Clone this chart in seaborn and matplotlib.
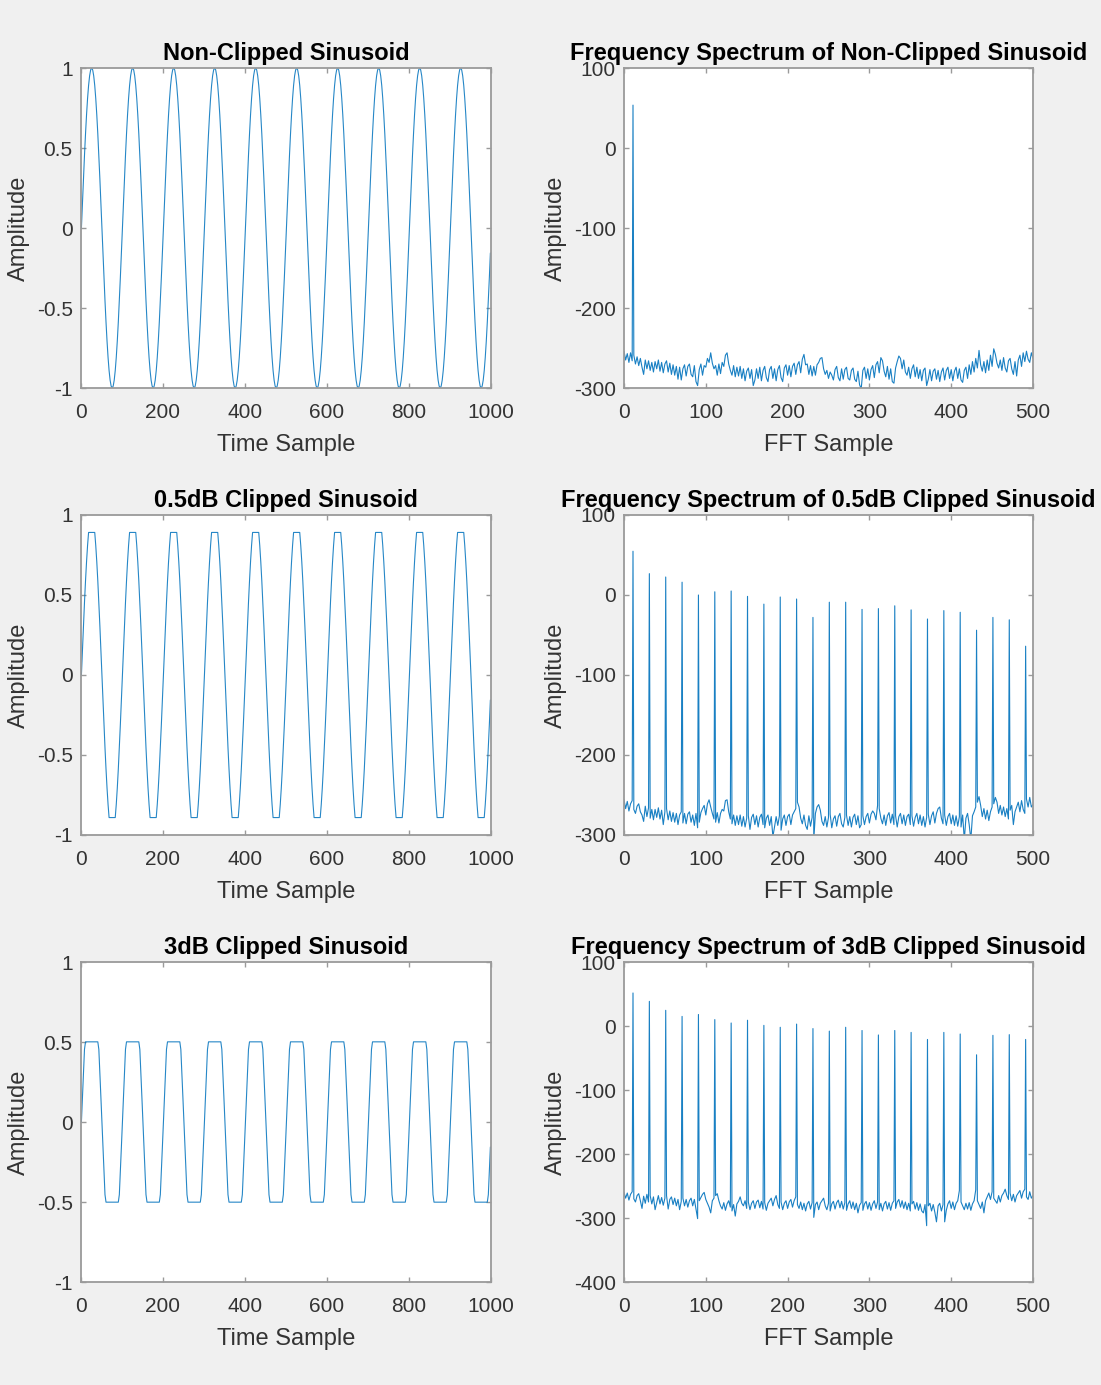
import numpy as np
import pandas as pd
import matplotlib
matplotlib.use("Agg")
import matplotlib.pyplot as plt
import seaborn as sns

# ---------------------------------------------------------------------------
# Time-domain data: one 100-sample period of the unit sinusoid, every 2.5 samples
# ---------------------------------------------------------------------------
sine_period = [
    0.000, 0.156, 0.309, 0.454, 0.588, 0.707, 0.809, 0.891, 0.951, 0.988,
    1.000, 0.988, 0.951, 0.891, 0.809, 0.707, 0.588, 0.454, 0.309, 0.156,
    0.000, -0.156, -0.309, -0.454, -0.588, -0.707, -0.809, -0.891, -0.951, -0.988,
    -1.000, -0.988, -0.951, -0.891, -0.809, -0.707, -0.588, -0.454, -0.309, -0.156,
]
sample_step = 2.5
n_periods = 10
clip_05db = 0.891   # amplitude limit for 0.5 dB clipping
clip_3db = 0.501    # amplitude limit for 3 dB clipping

# ---------------------------------------------------------------------------
# Frequency-domain data (dB): odd-harmonic peaks and the numerical noise floor
# ---------------------------------------------------------------------------
harmonic_bins = [11, 31, 51, 71, 91, 111, 131, 151, 171, 191, 211, 231, 251,
                 271, 291, 311, 331, 351, 371, 391, 411, 431, 451, 471, 491]

peaks_nonclipped = [53.6]
peaks_05db = [54.7, 26.7, 22.5, 16.0, 0.0, 4.0, 5.0, -1.7, -11.4, -2.5, -5.0,
              -28.0, -9.0, -9.0, -18.0, -17.0, -13.5, -18.6, -30.0, -19.5,
              -21.6, -44.0, -28.0, -31.0, -64.0]
peaks_3db = [51.6, 38.5, 24.5, 15.0, 18.0, 10.0, 4.7, 9.0, 1.0, -2.0, 3.0,
             -4.0, -8.0, -2.0, -7.0, -14.0, -7.0, -10.0, -21.0, -10.0, -12.5,
             -45.0, -14.6, -13.5, -21.0]

# noise floor at FFT samples 0, 2, 4, ..., 500
floor_nonclipped = [
    -254, -265, -257, -268, -256, -266, -259, -270, -261, -272,
    -263, -274, -283, -265, -276, -266, -278, -268, -280, -267,
    -276, -265, -279, -268, -281, -270, -266, -280, -269, -283,
    -271, -284, -273, -289, -274, -290, -276, -271, -285, -273,
    -270, -283, -286, -272, -292, -297, -277, -270, -284, -272,
    -274, -263, -268, -256, -269, -276, -272, -284, -270, -282,
    -268, -273, -259, -256, -270, -278, -284, -272, -286, -274,
    -285, -273, -288, -276, -291, -279, -275, -288, -277, -297,
    -290, -276, -288, -274, -291, -278, -273, -287, -292, -277,
    -273, -288, -276, -291, -277, -272, -287, -292, -275, -271,
    -284, -272, -286, -273, -269, -283, -271, -267, -281, -264,
    -258, -271, -270, -283, -272, -285, -273, -284, -271, -268,
    -263, -262, -276, -283, -278, -288, -280, -284, -290, -277,
    -273, -287, -291, -276, -289, -277, -274, -288, -290, -278,
    -275, -289, -292, -279, -296, -301, -278, -274, -288, -276,
    -290, -277, -272, -287, -271, -267, -281, -262, -266, -279,
    -286, -273, -289, -276, -292, -294, -275, -267, -260, -263,
    -276, -265, -280, -284, -274, -288, -276, -271, -286, -274,
    -288, -277, -291, -278, -275, -297, -289, -277, -291, -279,
    -276, -289, -278, -292, -280, -275, -290, -278, -274, -288,
    -277, -291, -279, -274, -288, -276, -290, -293, -278, -274,
    -288, -271, -283, -267, -280, -263, -275, -253, -271, -279,
    -267, -281, -265, -278, -259, -273, -251, -258, -269, -275,
    -265, -278, -262, -275, -280, -266, -263, -276, -283, -267,
    -285, -265, -259, -273, -256, -267, -254, -264, -268, -256,
    -263,
]

floor_05db = [
    -256, -267, -258, -270, -261, -257, -268, -273, -264, -261,
    -271, -275, -283, -264, -277, -266, -279, -268, -281, -268,
    -278, -266, -280, -269, -287, -271, -267, -281, -270, -283,
    -272, -284, -273, -287, -275, -271, -285, -273, -286, -274,
    -271, -284, -275, -288, -273, -291, -284, -272, -267, -263,
    -275, -261, -256, -265, -273, -280, -284, -272, -285, -273,
    -268, -270, -257, -256, -271, -280, -286, -275, -288, -276,
    -287, -275, -289, -277, -290, -279, -276, -293, -278, -274,
    -287, -276, -290, -278, -274, -287, -291, -279, -275, -288,
    -277, -302, -290, -277, -288, -276, -294, -280, -275, -288,
    -277, -274, -287, -275, -271, -267, -259, -265, -279, -286,
    -275, -288, -293, -276, -289, -278, -306, -273, -265, -262,
    -269, -283, -288, -277, -290, -278, -274, -291, -280, -276,
    -289, -277, -273, -286, -290, -278, -275, -288, -277, -290,
    -278, -274, -287, -276, -291, -287, -276, -287, -277, -273,
    -285, -274, -270, -273, -281, -263, -267, -279, -286, -275,
    -288, -276, -272, -285, -274, -287, -276, -290, -277, -273,
    -286, -275, -288, -277, -274, -287, -276, -289, -278, -273,
    -286, -275, -288, -277, -290, -278, -274, -287, -276, -271,
    -285, -273, -267, -265, -279, -286, -275, -288, -277, -273,
    -286, -275, -288, -276, -289, -277, -290, -275, -306, -279,
    -273, -287, -306, -276, -271, -265, -259, -252, -263, -277,
    -267, -280, -269, -282, -271, -265, -261, -253, -259, -273,
    -263, -275, -265, -277, -267, -280, -269, -263, -287, -271,
    -265, -259, -271, -257, -268, -273, -255, -265, -253, -265,
    -262,
]

floor_3db = [
    -260, -269, -261, -272, -263, -259, -270, -275, -265, -262,
    -273, -285, -266, -277, -263, -275, -265, -278, -267, -287,
    -276, -265, -278, -268, -280, -269, -265, -286, -271, -267,
    -279, -269, -281, -271, -287, -274, -269, -281, -271, -283,
    -273, -269, -281, -271, -286, -301, -273, -268, -263, -260,
    -271, -277, -283, -292, -273, -269, -265, -262, -273, -281,
    -286, -276, -288, -278, -273, -283, -289, -279, -297, -278,
    -274, -267, -277, -281, -273, -285, -275, -287, -277, -273,
    -285, -275, -272, -284, -274, -286, -276, -288, -277, -273,
    -269, -281, -271, -265, -279, -285, -275, -287, -277, -273,
    -285, -275, -271, -283, -273, -267, -279, -285, -275, -287,
    -277, -289, -278, -274, -286, -276, -299, -279, -275, -287,
    -277, -273, -269, -281, -287, -277, -289, -278, -274, -286,
    -276, -272, -284, -274, -286, -276, -288, -278, -273, -285,
    -275, -287, -277, -292, -280, -276, -288, -278, -274, -286,
    -276, -288, -278, -273, -285, -275, -287, -277, -289, -278,
    -274, -286, -276, -288, -277, -273, -285, -275, -271, -283,
    -273, -285, -275, -287, -277, -289, -278, -274, -286, -276,
    -288, -278, -289, -292, -279, -312, -281, -277, -289, -279,
    -291, -306, -281, -277, -289, -279, -306, -288, -278, -273,
    -285, -275, -287, -277, -273, -257, -275, -281, -287, -277,
    -286, -276, -288, -278, -273, -256, -273, -279, -285, -275,
    -292, -273, -267, -261, -271, -259, -269, -273, -277, -265,
    -275, -265, -261, -255, -265, -271, -261, -273, -263, -275,
    -265, -261, -257, -269, -259, -255, -267, -271, -259, -269,
    -265,
]

floor_step = 2

# ---------------------------------------------------------------------------
# Build plotting tables
# ---------------------------------------------------------------------------
period = np.array(sine_period)
wave = np.tile(period, n_periods)
time_idx = 1 + sample_step * np.arange(wave.size)

time_frames = {
    "Non-Clipped Sinusoid": pd.DataFrame({"t": time_idx, "amp": wave}),
    "0.5dB Clipped Sinusoid": pd.DataFrame({"t": time_idx,
                                            "amp": np.clip(wave, -clip_05db, clip_05db)}),
    "3dB Clipped Sinusoid": pd.DataFrame({"t": time_idx,
                                          "amp": np.clip(wave, -clip_3db, clip_3db)}),
}


def spectrum_frame(floor, peaks):
    floor_bins = floor_step * np.arange(len(floor))
    df = pd.concat([
        pd.DataFrame({"k": floor_bins, "db": floor}),
        pd.DataFrame({"k": harmonic_bins[:len(peaks)], "db": peaks}),
    ])
    return df.sort_values("k").reset_index(drop=True)


spec_frames = {
    "Frequency Spectrum of Non-Clipped Sinusoid": spectrum_frame(floor_nonclipped, peaks_nonclipped),
    "Frequency Spectrum of 0.5dB Clipped Sinusoid": spectrum_frame(floor_05db, peaks_05db),
    "Frequency Spectrum of 3dB Clipped Sinusoid": spectrum_frame(floor_3db, peaks_3db),
}
spec_ylims = [(-300, 100), (-300, 100), (-400, 100)]

# ---------------------------------------------------------------------------
# Styling
# ---------------------------------------------------------------------------
sns.set_theme(style="ticks")
spine_gray = "#9a9a9a"
text_gray = "#333333"
line_blue = "#0072BD"
plt.rcParams.update({
    "font.family": ["Liberation Sans", "DejaVu Sans"],
    "axes.unicode_minus": False,
    "figure.facecolor": "#f0f0f0",
    "axes.facecolor": "white",
    "axes.edgecolor": spine_gray,
    "axes.linewidth": 1.3,
    "xtick.direction": "in",
    "ytick.direction": "in",
    "xtick.top": True,
    "ytick.right": True,
    "xtick.major.size": 3.5,
    "ytick.major.size": 3.5,
    "xtick.major.width": 1.0,
    "ytick.major.width": 1.0,
    "xtick.color": spine_gray,
    "ytick.color": spine_gray,
    "xtick.labelcolor": text_gray,
    "ytick.labelcolor": text_gray,
    "xtick.labelsize": 15,
    "ytick.labelsize": 15,
    "xtick.major.pad": 10.5,
    "ytick.major.pad": 6,
    "axes.labelsize": 17,
    "axes.labelcolor": text_gray,
})

W, H = 1101, 1385
fig = plt.figure(figsize=(W / 100, H / 100), dpi=100)

col_left = [81, 624]
col_width = [410, 409]
row_top = [68, 515, 962]
row_height = 320


def add_axes(col, row):
    x0 = col_left[col] / W
    y0 = 1 - (row_top[row] + row_height) / H
    return fig.add_axes([x0, y0, col_width[col] / W, row_height / H])


def finish(ax, title, xlabel):
    ax.set_title(title, fontsize=17, fontweight="bold", color="black", pad=6)
    ax.set_xlabel(xlabel, labelpad=9)
    ax.set_ylabel("Amplitude", labelpad=5)
    for sp in ax.spines.values():
        sp.set_visible(True)


for row, (title, df) in enumerate(time_frames.items()):
    ax = add_axes(0, row)
    sns.lineplot(data=df, x="t", y="amp", ax=ax, color=line_blue,
                 linewidth=0.8, alpha=0.85, estimator=None, sort=True)
    ax.set_xlim(0, 1000)
    ax.set_ylim(-1, 1)
    ax.set_xticks([0, 200, 400, 600, 800, 1000])
    ax.set_yticks([-1, -0.5, 0, 0.5, 1])
    ax.set_yticklabels(["-1", "-0.5", "0", "0.5", "1"])
    finish(ax, title, "Time Sample")

for row, (title, df) in enumerate(spec_frames.items()):
    ax = add_axes(1, row)
    sns.lineplot(data=df, x="k", y="db", ax=ax, color=line_blue,
                 linewidth=0.8, alpha=0.9, estimator=None, sort=True)
    lo, hi = spec_ylims[row]
    ax.set_xlim(0, 500)
    ax.set_ylim(lo, hi)
    ax.set_xticks([0, 100, 200, 300, 400, 500])
    ax.set_yticks(np.arange(lo, hi + 1, 100))
    finish(ax, title, "FFT Sample")

fig.savefig("out.png", dpi=100, facecolor=fig.get_facecolor())
